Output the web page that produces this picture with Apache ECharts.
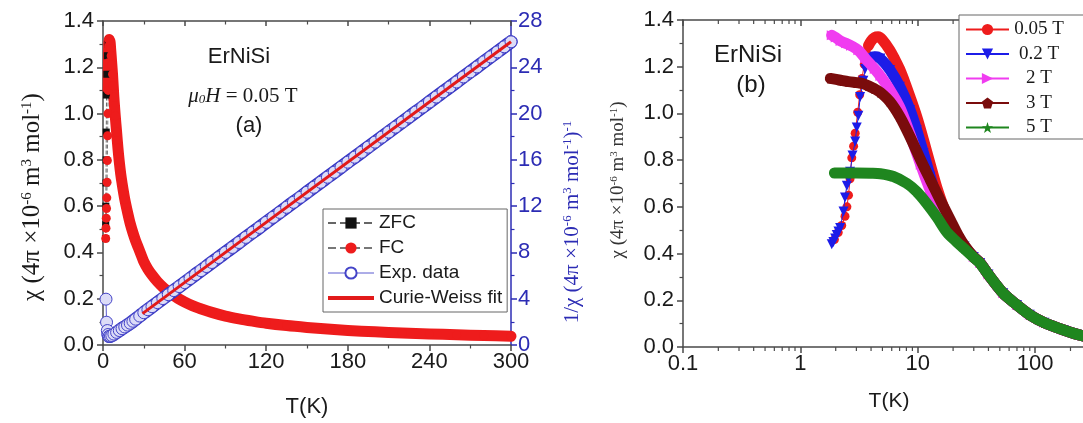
<!DOCTYPE html>
<html>
<head>
<meta charset="utf-8">
<script src="https://cdn.jsdelivr.net/npm/echarts@6/dist/echarts.min.js"></script>
<style>
  html, body { margin: 0; padding: 0; overflow: hidden; background: #fff; }
  #chart { width: 1180px; height: 423px; }
</style>
</head>
<body>
<div id="chart"></div>
<script>
// ---------- Panel (a): ErNiSi, mu0H = 0.05 T ----------
const zfcT   = [1.9, 2.0, 2.1, 2.2, 2.3, 2.4, 2.6, 2.8, 3.2, 3.8, 4.5];
const zfcChi = [0.46, 0.52, 0.60, 0.70, 0.80, 0.92, 1.08, 1.17, 1.25, 1.30, 1.32];

const fcT = [2.0, 2.2, 2.4, 2.6, 2.8, 3.0, 3.2, 3.4, 3.6, 3.8,
             4.0, 4.2, 4.5, 4.8, 5.2, 5.6, 6.0, 6.5, 7.0, 7.5,
             8, 9, 10, 11, 12, 13, 14, 16, 18, 20,
             22, 24, 26, 28, 30, 33, 36, 40, 45, 50,
             55, 60, 70, 80, 90, 100, 110, 120, 135, 150,
             165, 180, 200, 220, 240, 260, 280, 300];
const fcChi = [0.46, 0.505, 0.548, 0.59, 0.636, 0.703, 0.797, 0.904, 1.0, 1.10,
               1.22, 1.29, 1.32, 1.32, 1.31, 1.28, 1.25, 1.21, 1.17, 1.12,
               1.07, 0.99, 0.92, 0.85, 0.79, 0.74, 0.70, 0.63, 0.575, 0.525,
               0.485, 0.45, 0.42, 0.39, 0.36, 0.328, 0.303, 0.274, 0.245, 0.222,
               0.202, 0.186, 0.160, 0.141, 0.125, 0.113, 0.103, 0.094, 0.084, 0.076,
               0.069, 0.063, 0.057, 0.052, 0.048, 0.044, 0.041, 0.038];
const fcBandStart = 9;   // from here on the FC points merge into a solid band

const expT = [2.2, 2.6, 3.2, 3.8, 4.5, 5.5, 6.5, 8, 10, 12,
              14, 16, 18, 20, 22, 24, 27, 30, 33, 36,
              40, 44, 48, 52, 56, 60, 64, 68, 72, 76,
              80, 85, 90, 95, 100, 105, 110, 115, 120, 125,
              130, 135, 140, 145, 150, 155, 160, 165, 170, 175,
              180, 185, 190, 195, 200, 205, 210, 215, 220, 225,
              230, 235, 240, 245, 250, 255, 260, 265, 270, 275,
              280, 285, 290, 295, 300];
const expInvChi = [3.96, 1.97, 1.25, 0.91, 0.76, 0.77, 0.82, 0.94, 1.09, 1.25,
                   1.41, 1.56, 1.72, 1.88, 2.05, 2.23, 2.50, 2.79, 3.05, 3.31,
                   3.66, 4.01, 4.35, 4.70, 5.05, 5.39, 5.74, 6.09, 6.43, 6.78,
                   7.13, 7.56, 8.00, 8.43, 8.86, 9.30, 9.73, 10.16, 10.60, 11.03,
                   11.46, 11.90, 12.33, 12.76, 13.20, 13.63, 14.06, 14.50, 14.93, 15.36,
                   15.80, 16.23, 16.66, 17.10, 17.53, 17.96, 18.40, 18.83, 19.26, 19.70,
                   20.13, 20.56, 21.00, 21.43, 21.87, 22.30, 22.73, 23.17, 23.60, 24.03,
                   24.47, 24.90, 25.33, 25.77, 26.20];
const expBandStart = 3;  // dense part of the 1/chi data

const fitT      = [29, 300];
const fitInvChi = [2.71, 26.2];

// ---------- Panel (b): field dependence, log temperature axis ----------
const fieldNames = ['0.05 T', '0.2 T', '2 T', '3 T', '5 T'];

const t005 = [1.95, 2.1, 2.25, 2.4, 2.49, 2.57, 2.65, 2.74, 2.84, 2.93,
              3.08, 3.2, 3.35, 3.5, 3.65, 3.8, 4.0, 4.3, 4.6, 5.0,
              5.8, 6.4, 7.0, 7.8, 8.6, 9.8, 11.2, 12.8, 14.6, 17.3,
              20, 25, 30, 34, 40, 53.5, 70, 90, 120, 175,
              257, 350, 450];
const chi005 = [0.46, 0.49, 0.52, 0.56, 0.60, 0.65, 0.72, 0.81, 0.86, 0.915,
                1.005, 1.08, 1.15, 1.21, 1.26, 1.29, 1.31, 1.325, 1.328, 1.315,
                1.27, 1.23, 1.19, 1.13, 1.07, 0.986, 0.886, 0.78, 0.68, 0.575,
                0.51, 0.43, 0.385, 0.36, 0.31, 0.23, 0.18, 0.138, 0.104, 0.073,
                0.047, 0.034, 0.027];

const t02 = [1.85, 1.91, 1.98, 2.04, 2.11, 2.18, 2.33, 2.40, 2.49, 2.57,
             2.65, 2.78, 2.93, 3.02, 3.12, 3.23, 3.44, 3.56, 3.75, 3.93,
             4.3, 4.8, 5.8, 7.04, 8.6, 9.8, 11.2, 12.8, 14.6, 16.6,
             20, 25, 30, 34, 40, 53.5, 70, 90, 120, 175,
             257, 350, 450];
const chi02 = [0.44, 0.45, 0.465, 0.48, 0.495, 0.51, 0.58, 0.64, 0.69, 0.72,
               0.75, 0.82, 0.88, 0.94, 0.99, 1.07, 1.14, 1.19, 1.22, 1.235,
               1.243, 1.235, 1.186, 1.114, 1.015, 0.929, 0.829, 0.729, 0.63, 0.56,
               0.505, 0.43, 0.385, 0.36, 0.31, 0.23, 0.18, 0.138, 0.104, 0.073,
               0.047, 0.034, 0.027];

const t2 = [1.85, 2.0, 2.2, 2.45, 2.7, 3.12, 3.56, 4.3, 4.8, 5.8,
            7.04, 8.6, 10.6, 12.8, 15.5, 18, 20, 25, 30, 34,
            40, 53.5, 70, 90, 120, 175, 257, 350, 450];
const chi2 = [1.335, 1.325, 1.31, 1.30, 1.29, 1.27, 1.236, 1.19, 1.16, 1.10,
              1.025, 0.91, 0.78, 0.67, 0.58, 0.53, 0.50, 0.43, 0.385, 0.36,
              0.31, 0.23, 0.18, 0.138, 0.104, 0.073, 0.047, 0.034, 0.027];

const t3 = [1.8, 2.2, 2.57, 3.0, 3.33, 3.8, 4.3, 4.8, 5.8, 7.04,
            8.6, 10.6, 12.8, 15.5, 18.9, 22, 25, 30, 34, 40,
            53.5, 70, 90, 120, 175, 257, 350, 450];
const chi3 = [1.15, 1.142, 1.136, 1.132, 1.129, 1.118, 1.105, 1.09, 1.05, 0.986,
              0.90, 0.80, 0.715, 0.63, 0.545, 0.48, 0.435, 0.385, 0.36, 0.31,
              0.23, 0.18, 0.138, 0.104, 0.073, 0.047, 0.034, 0.027];

const t5 = [1.95, 2.3, 3.0, 4.0, 4.8, 6.2, 8.1, 9.8, 11.9, 14.6,
            17.8, 21.5, 25, 30, 34, 40, 53.5, 70, 90, 120,
            175, 257, 350, 450];
const chi5 = [0.745, 0.745, 0.745, 0.744, 0.742, 0.73, 0.70, 0.665, 0.615, 0.555,
              0.49, 0.45, 0.42, 0.383, 0.358, 0.31, 0.23, 0.18, 0.138, 0.104,
              0.073, 0.047, 0.034, 0.027];

// index where each curve turns into a dense band
const bandStart = [15, 18, 0, 0, 0];

// intermediate ticks of the logarithmic axis
const logMinorTicks = [0.2, 0.3, 0.4, 0.5, 0.6, 0.7, 0.8, 0.9,
                       2, 3, 4, 5, 6, 7, 8, 9,
                       20, 30, 40, 50, 60, 70, 80, 90,
                       200, 300, 400, 500, 600, 700, 800, 900];

// ---------- styling ----------
const SANS = '"Liberation Sans", Arial, sans-serif';
const SERIF = '"Liberation Serif", "Times New Roman", serif';
const AXIS = '#4a4a4a';
const INK = '#1a1a1a';
const BLUE_AX = '#2c2cb4';
const RED = '#ee1c1c';

const pairs = (xs, ys) => xs.map((x, i) => [x, ys[i]]);

const fieldStyles = [
  { color: '#ee1c1c', symbol: 'circle', rotate: 0, size: 9 },
  { color: '#1c1ce8', symbol: 'triangle', rotate: 180, size: 10 },
  { color: '#f03cf0', symbol: 'triangle', rotate: -90, size: 10 },
  { color: '#7a0c0c', symbol: 'path://M10,0 L19.5,6.9 L15.9,18.1 L4.1,18.1 L0.5,6.9 Z', rotate: 0, size: 10 },
  { color: '#1f861f', symbol: 'path://M10,0 L12.4,7.2 L20,7.3 L13.9,11.8 L16.2,19 L10,14.6 L3.8,19 L6.1,11.8 L0,7.3 L7.6,7.2 Z', rotate: 0, size: 10 }
];
const fieldData = [pairs(t005, chi005), pairs(t02, chi02), pairs(t2, chi2), pairs(t3, chi3), pairs(t5, chi5)];

function valueAxisBase(extra) {
  return Object.assign({
    type: 'value',
    axisLine: { show: true, onZero: false, lineStyle: { color: AXIS, width: 1.5 } },
    axisTick: { show: true, length: 6, lineStyle: { color: AXIS, width: 1.5 } },
    minorTick: { show: true, splitNumber: 2, length: 3.5, lineStyle: { color: AXIS, width: 1.2 } },
    splitLine: { show: false },
    minorSplitLine: { show: false },
    axisLabel: { fontFamily: SANS, fontSize: 22, color: INK }
  }, extra);
}

const series = [];

// panel (a)
series.push({
  name: 'ZFC', type: 'line', xAxisIndex: 0, yAxisIndex: 0,
  data: pairs(zfcT, zfcChi),
  symbol: 'rect', symbolSize: 7,
  itemStyle: { color: '#111' },
  lineStyle: { color: '#666', width: 1, type: 'dashed' },
  z: 2
});
series.push({
  name: 'FC', type: 'line', xAxisIndex: 0, yAxisIndex: 0,
  data: pairs(fcT, fcChi),
  symbol: 'circle', symbolSize: 9,
  itemStyle: { color: RED },
  lineStyle: { color: '#777', width: 1, type: 'dashed' },
  z: 2
});
series.push({
  name: 'FC', type: 'line', xAxisIndex: 0, yAxisIndex: 0,
  data: pairs(fcT, fcChi).slice(fcBandStart),
  symbol: 'none', smooth: 0.3,
  lineStyle: { color: RED, width: 11, cap: 'round', join: 'round' },
  z: 2
});
series.push({
  name: 'Exp. data', type: 'line', xAxisIndex: 0, yAxisIndex: 1,
  data: pairs(expT, expInvChi),
  symbol: 'circle', symbolSize: 12,
  itemStyle: { color: '#dcdcf7', borderColor: '#4444c8', borderWidth: 1 },
  lineStyle: { color: '#5a5ad0', width: 1 },
  z: 4
});
// outline and fill of the dense part of the 1/chi band
series.push({
  name: 'Exp. data', type: 'line', xAxisIndex: 0, yAxisIndex: 1,
  data: pairs(expT, expInvChi).slice(expBandStart),
  symbol: 'none', smooth: 0.2,
  lineStyle: { color: '#3434c4', width: 13.5, cap: 'round', join: 'round' },
  z: 3
});
series.push({
  name: 'Exp. data', type: 'line', xAxisIndex: 0, yAxisIndex: 1,
  data: pairs(expT, expInvChi).slice(expBandStart),
  symbol: 'none', smooth: 0.2,
  lineStyle: { color: '#d6d6f5', width: 10.5, cap: 'round', join: 'round' },
  z: 3
});
series.push({
  name: 'Curie-Weiss fit', type: 'line', xAxisIndex: 0, yAxisIndex: 1,
  data: pairs(fitT, fitInvChi),
  symbol: 'none',
  itemStyle: { color: '#e21a1a' },
  lineStyle: { color: '#e21a1a', width: 3 },
  z: 5
});

// panel (b)
fieldNames.forEach((name, k) => {
  const st = fieldStyles[k];
  series.push({
    name, type: 'line', xAxisIndex: 2, yAxisIndex: 2,
    data: fieldData[k],
    symbol: st.symbol, symbolSize: st.size, symbolRotate: st.rotate,
    itemStyle: { color: st.color },
    lineStyle: { color: st.color, width: 1 },
    z: 2 + 2 * k
  });
  series.push({
    name, type: 'line', xAxisIndex: 2, yAxisIndex: 2,
    data: fieldData[k].slice(bandStart[k]),
    symbol: 'none', smooth: 0.3,
    lineStyle: { color: st.color, width: 11, cap: 'round', join: 'round' },
    z: 3 + 2 * k
  });
});

// minor ticks of the log axis (bottom: outward, top: inward)
series.push({
  type: 'custom', xAxisIndex: 2, yAxisIndex: 2, silent: true, clip: false, z: 20,
  data: logMinorTicks.map(v => [v, 0]),
  renderItem(params, api) {
    const x = api.coord([api.value(0), 0])[0];
    const yb = api.coord([1, 0])[1];
    const yt = api.coord([1, 1.4])[1];
    const s = { stroke: AXIS, lineWidth: 1.2 };
    return {
      type: 'group',
      children: [
        { type: 'line', shape: { x1: x, y1: yb, x2: x, y2: yb + 4 }, style: s },
        { type: 'line', shape: { x1: x, y1: yt, x2: x, y2: yt + 4 }, style: s }
      ]
    };
  }
});

const chiTitle = (size, color) => ({
  text: '{n|χ (4π ×10}{s|-6}{n| m}{s|3}{n| mol}{s|-1}{n|)}',
  rich: {
    n: { fontFamily: SERIF, fontSize: size, fill: color },
    s: { fontFamily: SERIF, fontSize: Math.round(size * 0.6), fill: color, verticalAlign: 'top' }
  },
  align: 'center', verticalAlign: 'middle'
});

const option = {
  animation: false,
  backgroundColor: '#fff',
  grid: [
    { left: 103, top: 21, width: 408, height: 327 },
    { left: 683, top: 20, width: 490, height: 327 }
  ],
  xAxis: [
    valueAxisBase({
      gridIndex: 0, position: 'bottom', min: 0, max: 300, interval: 60,
      axisLabel: { fontFamily: SANS, fontSize: 22, color: INK, margin: 6 },
      name: 'T(K)', nameLocation: 'middle', nameGap: 51,
      nameTextStyle: { fontFamily: SANS, fontSize: 22, color: INK }
    }),
    valueAxisBase({
      gridIndex: 0, position: 'top', min: 0, max: 300, interval: 60,
      axisTick: { show: true, inside: true, length: 5, lineStyle: { color: AXIS, width: 1.5 } },
      axisLabel: { show: false }
    }),
    {
      type: 'log', logBase: 10, gridIndex: 1, position: 'bottom', min: 0.1, max: 1000,
      axisLine: { show: true, onZero: false, lineStyle: { color: AXIS, width: 1.5 } },
      axisTick: { show: true, length: 6, lineStyle: { color: AXIS, width: 1.5 } },
      minorTick: { show: false },
      splitLine: { show: false },
      axisLabel: {
        fontFamily: SANS, fontSize: 22, color: INK, margin: 6,
        formatter: v => (v < 1 ? v.toFixed(1) : String(Math.round(v)))
      }
    },
    {
      type: 'log', logBase: 10, gridIndex: 1, position: 'top', min: 0.1, max: 1000,
      axisLine: { show: true, onZero: false, lineStyle: { color: AXIS, width: 1.5 } },
      axisTick: { show: true, inside: true, length: 6, lineStyle: { color: AXIS, width: 1.5 } },
      splitLine: { show: false },
      axisLabel: { show: false }
    }
  ],
  yAxis: [
    valueAxisBase({
      gridIndex: 0, position: 'left', min: 0, max: 1.4, interval: 0.2,
      axisLabel: { fontFamily: SANS, fontSize: 22, color: INK, margin: 9, formatter: v => v.toFixed(1) }
    }),
    valueAxisBase({
      gridIndex: 0, position: 'right', min: 0, max: 28, interval: 4,
      axisLine: { show: true, onZero: false, lineStyle: { color: BLUE_AX, width: 1.5 } },
      axisTick: { show: true, length: 6, lineStyle: { color: BLUE_AX, width: 1.5 } },
      minorTick: { show: true, splitNumber: 2, length: 3.5, lineStyle: { color: BLUE_AX, width: 1.2 } },
      axisLabel: { fontFamily: SANS, fontSize: 22, color: BLUE_AX, margin: 7 }
    }),
    valueAxisBase({
      gridIndex: 1, position: 'left', min: 0, max: 1.4, interval: 0.2,
      axisLabel: { fontFamily: SANS, fontSize: 22, color: INK, margin: 9, formatter: v => v.toFixed(1) }
    })
  ],
  legend: [
    {
      orient: 'vertical', left: 323, top: 209, z: 30,
      backgroundColor: '#fff', borderColor: '#666', borderWidth: 1,
      padding: [4, 5, 4, 3], itemWidth: 46, itemHeight: 14, itemGap: 5,
      textStyle: { fontFamily: SANS, fontSize: 19, color: INK, lineHeight: 20 },
      data: [
        { name: 'ZFC' },
        { name: 'FC' },
        { name: 'Exp. data', itemStyle: { color: '#fff', borderColor: '#4444c8' }, lineStyle: { color: '#5a5ad0', width: 1 } },
        { name: 'Curie-Weiss fit', itemStyle: { opacity: 0 }, lineStyle: { color: '#e21a1a', width: 4 } }
      ]
    },
    {
      orient: 'vertical', left: 959, top: 15, z: 30,
      backgroundColor: '#fff', borderColor: '#666', borderWidth: 1,
      padding: [5, 30, 2, 6], itemWidth: 43, itemHeight: 14, itemGap: 5.5,
      formatter: name => '{c|' + name + '}',
      textStyle: {
        fontFamily: SERIF, fontSize: 19, color: INK,
        rich: { c: { width: 50, align: 'center', fontFamily: SERIF, fontSize: 19, color: INK, lineHeight: 19 } }
      },
      data: fieldNames
    }
  ],
  graphic: [
    { type: 'text', x: 239, y: 57, style: { text: 'ErNiSi', font: '22px ' + SANS, fill: INK, align: 'center', verticalAlign: 'middle' } },
    {
      type: 'text', x: 243, y: 96,
      style: {
        text: '{i|μ}{s|0}{i|H}{n| = 0.05 T}',
        rich: {
          i: { fontFamily: SERIF, fontSize: 21, fontStyle: 'italic', fill: INK },
          s: { fontFamily: SERIF, fontSize: 13, fontStyle: 'italic', fill: INK, verticalAlign: 'bottom' },
          n: { fontFamily: SERIF, fontSize: 21, fill: INK }
        },
        align: 'center', verticalAlign: 'middle'
      }
    },
    { type: 'text', x: 249, y: 126, style: { text: '(a)', font: '22px ' + SANS, fill: INK, align: 'center', verticalAlign: 'middle' } },
    { type: 'text', x: 748, y: 55, style: { text: 'ErNiSi', font: '24px ' + SANS, fill: INK, align: 'center', verticalAlign: 'middle' } },
    { type: 'text', x: 751, y: 85, style: { text: '(b)', font: '24px ' + SANS, fill: INK, align: 'center', verticalAlign: 'middle' } },
    { type: 'text', x: 32, y: 197, rotation: Math.PI / 2, style: chiTitle(25, INK) },
    {
      type: 'text', x: 572, y: 222, rotation: Math.PI / 2,
      style: {
        text: '{n|1/χ (4π ×10}{s|-6}{n| m}{s|3}{n| mol}{s|-1}{n|)}{s|-1}',
        rich: {
          n: { fontFamily: SERIF, fontSize: 21, fill: BLUE_AX },
          s: { fontFamily: SERIF, fontSize: 13, fill: BLUE_AX, verticalAlign: 'top' }
        },
        align: 'center', verticalAlign: 'middle'
      }
    },
    { type: 'text', x: 618, y: 180, rotation: Math.PI / 2, style: chiTitle(19, '#333') },
    { type: 'text', x: 889, y: 401, style: { text: 'T(K)', font: '21px ' + SANS, fill: INK, align: 'center', verticalAlign: 'middle' } }
  ],
  series
};

const chart = echarts.init(document.getElementById('chart'), null, { renderer: 'canvas' });
chart.setOption(option);
</script>
</body>
</html>
